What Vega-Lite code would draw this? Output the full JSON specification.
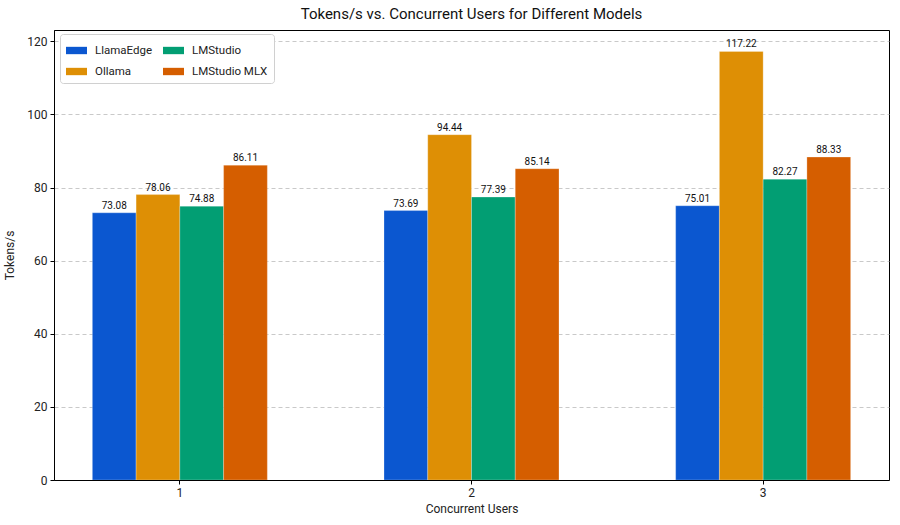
{
  "$schema": "https://vega.github.io/schema/vega-lite/v6.json",
  "width": 835,
  "height": 450,
  "autosize": {"type": "none"},
  "padding": {"left": 54, "top": 30, "right": 11, "bottom": 45},
  "background": "white",
  "config": {
    "font": "Roboto",
    "view": {"stroke": "black", "strokeWidth": 1},
    "axis": {"labelFont": "Roboto", "titleFont": "Roboto", "labelColor": "#222", "titleColor": "#222", "tickColor": "black", "domainColor": "black", "titleFontWeight": "normal", "labelFontSize": 11, "titleFontSize": 12}
  },
  "title": {"text": "Tokens/s vs. Concurrent Users for Different Models", "fontSize": 15, "fontWeight": "normal", "font": "Roboto", "color": "#111", "anchor": "middle", "offset": 8},
  "data": {
    "values": [
      {"users": "1", "model": "LlamaEdge", "tps": 73.08},
      {"users": "1", "model": "Ollama", "tps": 78.06},
      {"users": "1", "model": "LMStudio", "tps": 74.88},
      {"users": "1", "model": "LMStudio MLX", "tps": 86.11},
      {"users": "2", "model": "LlamaEdge", "tps": 73.69},
      {"users": "2", "model": "Ollama", "tps": 94.44},
      {"users": "2", "model": "LMStudio", "tps": 77.39},
      {"users": "2", "model": "LMStudio MLX", "tps": 85.14},
      {"users": "3", "model": "LlamaEdge", "tps": 75.01},
      {"users": "3", "model": "Ollama", "tps": 117.22},
      {"users": "3", "model": "LMStudio", "tps": 82.27},
      {"users": "3", "model": "LMStudio MLX", "tps": 88.33}
    ]
  },
  "encoding": {
    "x": {"field": "users", "type": "nominal", "sort": ["1", "2", "3"],
      "scale": {"paddingInner": 0.4, "paddingOuter": 0.1315},
      "axis": {"title": "Concurrent Users", "labelAngle": 0, "grid": false, "domain": true, "domainWidth": 1, "tickSize": 4, "labelPadding": 3, "titlePadding": 5, "labelFontSize": 12, "zindex": 2}},
    "xOffset": {"field": "model", "type": "nominal", "sort": ["LlamaEdge", "Ollama", "LMStudio", "LMStudio MLX"], "scale": {"paddingInner": 0, "paddingOuter": 0}},
    "y": {"field": "tps", "type": "quantitative",
      "scale": {"domain": [0, 123.08], "nice": false},
      "axis": {"title": "Tokens/s", "values": [0, 20, 40, 60, 80, 100, 120], "grid": true, "gridDash": [4, 3], "gridColor": "#bbbbbb", "gridWidth": 0.8, "domain": true, "domainWidth": 1, "tickSize": 4, "labelPadding": 3, "titlePadding": 10, "labelFontSize": 12, "zindex": 0}}
  },
  "layer": [
    {
      "mark": {"type": "bar", "stroke": "white", "strokeWidth": 0.5, "strokeOpacity": 0.5},
      "encoding": {
        "color": {"field": "model", "type": "nominal",
          "scale": {"domain": ["LlamaEdge", "LMStudio", "Ollama", "LMStudio MLX"], "range": ["#0B57D0", "#029E73", "#DE8F05", "#D55E00"]},
          "legend": {"title": null, "orient": "none", "legendX": 6, "legendY": 4, "columns": 2, "direction": "horizontal",
            "symbolType": "M-1,-0.35L1,-0.35L1,0.35L-1,0.35Z", "symbolSize": 441, "symbolStrokeWidth": 0,
            "labelFontSize": 11.5, "labelFont": "Roboto", "labelColor": "#222", "columnPadding": 10, "rowPadding": 5, "labelOffset": 8,
            "fillColor": "white", "strokeColor": "#d0d0d0", "padding": 6, "cornerRadius": 3, "offset": 0}
        }
      }
    },
    {
      "mark": {"type": "text", "dy": -7, "fontSize": 10, "font": "Roboto", "color": "#111"},
      "encoding": {"text": {"field": "tps", "type": "quantitative", "format": ".2f"}}
    }
  ]
}
